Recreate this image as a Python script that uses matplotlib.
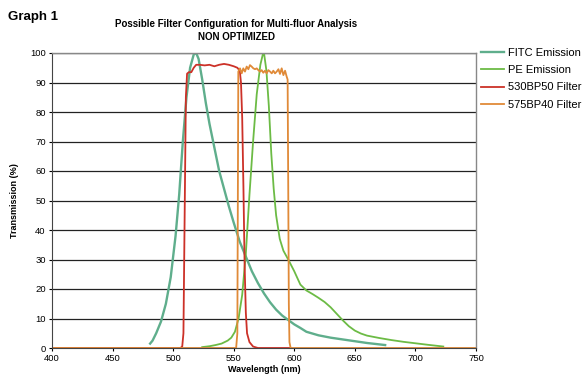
import matplotlib.pyplot as plt

plt.rcParams['font.family'] = ['Liberation Sans', 'DejaVu Sans']

# FITC emission
fitc_nm = [481, 483, 486, 490, 494, 498, 502, 505, 508, 511, 514, 517, 519, 521, 524, 527, 530, 534, 538, 542,
           546, 550, 555, 560, 565, 570, 575, 580, 585, 590, 595, 600, 605, 610, 620, 630, 640, 650, 660, 675]
fitc = [1.5, 2.5, 5, 9, 15, 24, 38, 52, 70, 85, 95, 99.5, 100, 98, 91, 83, 76, 68, 60, 54,
        48, 42.5, 36, 31, 26, 22, 18.5, 15.5, 13, 11, 9.5, 8, 6.8, 5.5, 4.3, 3.5, 2.9, 2.3, 1.7, 1.0]

# PE emission
pe_nm = [524, 530, 535, 540, 545, 548, 551, 554, 557, 560, 563, 566, 569, 572, 574, 575, 577, 579, 581, 583,
         585, 588, 591, 595, 600, 605, 610, 615, 620, 625, 630, 635, 640, 645, 650, 655, 660, 670, 680, 690,
         700, 710, 723]
pe = [0.3, 0.6, 1, 1.5, 2.5, 3.5, 5.5, 10, 18, 32, 52, 70, 86, 96, 99.5, 100, 94, 82, 66, 54,
      45, 37, 33, 30, 26, 21.5, 19.5, 18.3, 17.0, 15.6, 13.8, 11.6, 9.4, 7.4, 5.9, 4.9, 4.2, 3.4, 2.7, 2.1,
      1.6, 1.1, 0.5]

# 530BP50 filter
bp530_nm = [400, 506, 507.5, 508.5, 509.5, 510.5, 511.5, 513, 515, 517, 519, 522, 526, 530, 534, 538, 542, 546,
            550, 553, 555, 556, 557, 558, 559, 560, 561, 563, 566, 570, 597]
bp530 = [0, 0, 0.5, 5, 45, 85, 93, 93.5, 93.5, 95, 96, 96, 95.8, 96, 95.5, 96, 96.3, 96,
         95.5, 95, 94, 90, 78, 55, 28, 12, 5, 2, 0.5, 0, 0]

# 575BP40 filter
bp575_nm = [400, 552, 553, 553.8, 555.2, 556.6, 557.9, 559.3, 560.7, 562.1, 563.4, 564.8, 566.2, 567.6, 569.0,
            570.3, 571.7, 573.1, 574.4, 575.8, 577.2, 578.6, 580.0, 581.4, 582.7, 584.1, 585.5, 586.9, 588.2,
            589.6, 591.0, 592.4, 593.7, 594.5, 595, 595.5, 596, 597, 750]
bp575 = [0, 0, 5, 93.7, 94.8, 93.1, 94.8, 93.7, 95.4, 94.5, 95.9, 95.4, 94.8, 94.5, 94.8,
         94.2, 93.7, 94.2, 93.3, 94.0, 93.1, 94.2, 93.7, 93.1, 94.0, 93.1, 93.7, 94.5, 92.9,
         94.8, 92.5, 94.0, 92.0, 91, 55, 15, 2, 0, 0]

fig = plt.figure(figsize=(5.85, 3.76), dpi=100)
ax = fig.add_axes([52/585, 28/376, 424/585, 295/376])

ax.plot(fitc_nm, fitc, color='#5fae8c', lw=1.7, label='FITC Emission')
ax.plot(pe_nm, pe, color='#6cbb45', lw=1.3, label='PE Emission')
ax.plot(bp530_nm, bp530, color='#cc3128', lw=1.3, label='530BP50 Filter')
ax.plot(bp575_nm, bp575, color='#e08a38', lw=1.3, label='575BP40 Filter')

ax.set_xlim(400, 750)
ax.set_ylim(0, 100)
ax.set_xticks(range(400, 751, 50))
ax.set_yticks(range(0, 101, 10))
ax.yaxis.grid(True, color='#222222', lw=0.9)
ax.set_axisbelow(True)
ax.tick_params(labelsize=6.8, length=2.5, width=0.8, pad=2)
for s in ['top', 'right']:
    ax.spines[s].set_color('#888888')
    ax.spines[s].set_linewidth(1.0)
for s in ['left', 'bottom']:
    ax.spines[s].set_color('#444444')

ax.set_xlabel('Wavelength (nm)', fontsize=6.5, fontweight='bold', labelpad=1)
ax.set_ylabel('Transmission (%)', fontsize=6.5, fontweight='bold', labelpad=8)

fig.text(8/585, 1 - 17/376, 'Graph 1', fontsize=9.5, fontweight='bold', va='center', ha='left',
         family=['Liberation Sans Narrow', 'Liberation Sans', 'DejaVu Sans'])
fig.text(236/585, 1 - 24/376, 'Possible Filter Configuration for Multi-fluor Analysis',
         fontsize=7, fontweight='bold', ha='center', va='center')
fig.text(236/585, 1 - 37/376, 'NON OPTIMIZED', fontsize=7, fontweight='bold', ha='center', va='center')

fig.legend(loc='upper left', bbox_to_anchor=(481/585, 1 - 48/376), frameon=False, fontsize=8,
           handlelength=2.1, handletextpad=0.35, labelspacing=0.65, borderaxespad=0, borderpad=0)

fig.savefig('out.png', dpi=100)
